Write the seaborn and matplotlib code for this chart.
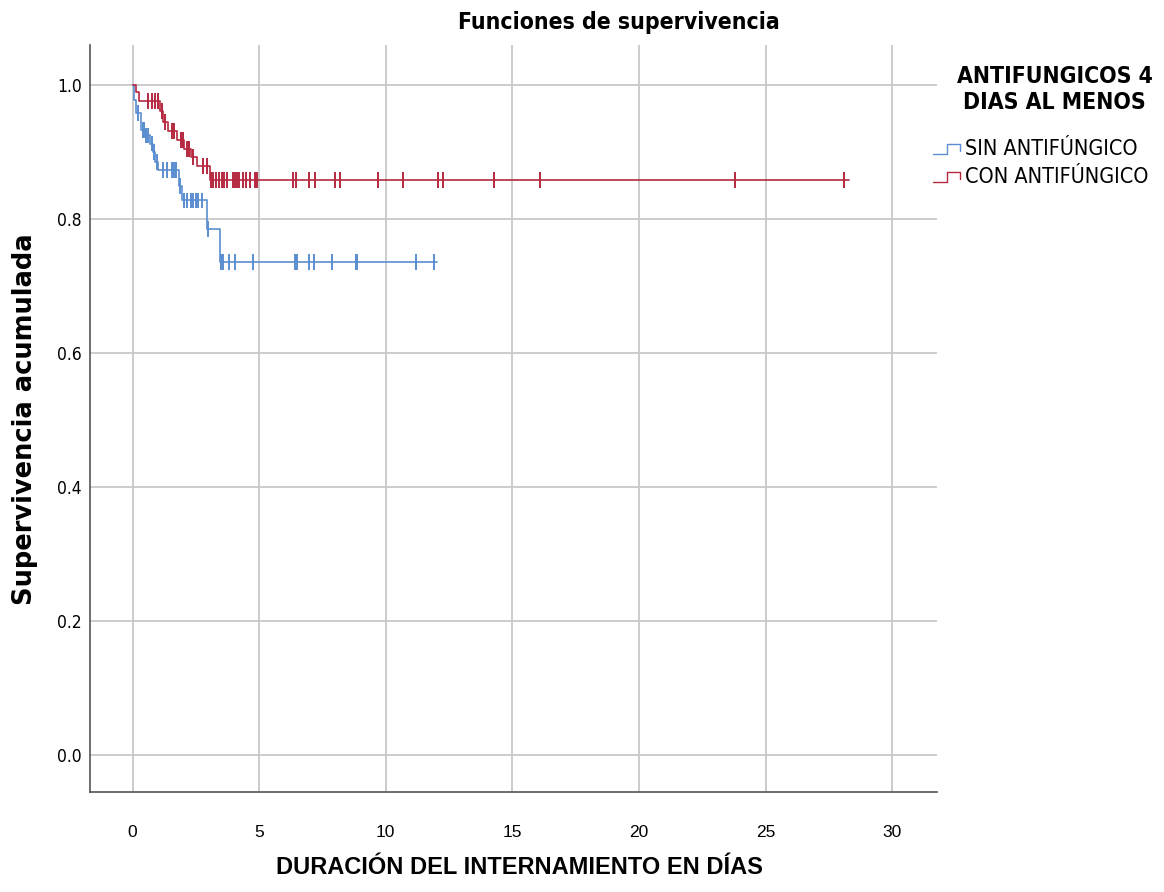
import numpy as np
import pandas as pd
import seaborn as sns
import matplotlib.pyplot as plt
from matplotlib import font_manager
from matplotlib.font_manager import FontProperties
from matplotlib.lines import Line2D

# -----------------------------
# Kaplan-Meier data
# -----------------------------
grupos = ["SIN ANTIFÚNGICO", "CON ANTIFÚNGICO"]

# step times (days) and survival right after each step
sin_t = [0.0, 0.05, 0.15, 0.35, 0.5, 0.7, 0.8, 0.9, 1.0, 1.85, 1.95, 2.95, 3.45]
sin_s = [1.0, 0.978, 0.958, 0.933, 0.925, 0.913, 0.900, 0.886, 0.873, 0.850, 0.828, 0.785, 0.736]
sin_fin = 12.03
sin_cens = [0.2, 0.4, 0.45, 0.55, 0.62, 0.75, 0.85, 0.95, 1.2, 1.35, 1.55, 1.62, 1.7,
            1.88, 2.05, 2.15, 2.3, 2.4, 2.5, 2.6, 2.75, 3.0,
            3.48, 3.59, 3.82, 4.05, 4.77, 6.42, 6.51, 6.98, 7.17, 7.89, 8.82, 8.85,
            11.2, 11.91]

con_t = [0.0, 0.15, 0.25, 1.1, 1.2, 1.4, 1.75, 2.05, 2.3, 2.55, 3.05]
con_s = [1.0, 0.99, 0.977, 0.962, 0.945, 0.932, 0.918, 0.905, 0.893, 0.880, 0.858]
con_fin = 28.3
con_cens = [0.6, 0.75, 0.9, 1.0, 1.15, 1.3, 1.55, 1.65, 1.9, 2.0, 2.15, 2.25, 2.4,
            2.8, 2.95, 3.09, 3.17, 3.30, 3.43, 3.55, 3.63, 3.72, 3.98, 4.05, 4.12,
            4.22, 4.38, 4.48, 4.64, 4.84, 4.93, 6.35, 6.46, 6.98, 7.21, 8.0, 8.2,
            9.71, 10.67, 12.08, 12.27, 14.28, 16.09, 23.8, 28.1]

colores = {"SIN ANTIFÚNGICO": "#5b8ed1", "CON ANTIFÚNGICO": "#b5283f"}

# -----------------------------
# Build tables
# -----------------------------
curvas = []
marcas = []
for g, t, s, fin, cens in [(grupos[0], sin_t, sin_s, sin_fin, sin_cens),
                           (grupos[1], con_t, con_s, con_fin, con_cens)]:
    tt = list(t) + [fin]
    ss = list(s) + [s[-1]]
    curvas.append(pd.DataFrame({"t": tt, "S": ss, "grupo": g}))
    idx = np.searchsorted(np.array(t), np.array(cens), side="right") - 1
    marcas.append(pd.DataFrame({"t": cens, "S": np.array(s)[idx], "grupo": g}))
df_curvas = pd.concat(curvas, ignore_index=True)
df_marcas = pd.concat(marcas, ignore_index=True)


# -----------------------------
# Fonts: look for a condensed face, else Open Sans
# -----------------------------
def es_estrecha(f):
    return ("Narrow" in f.name or "Condensed" in f.name
            or str(f.stretch) in ("condensed", "semi-condensed", "extra-condensed"))


estrechas = [f for f in font_manager.fontManager.ttflist if es_estrecha(f)]


def fuente(bold, size):
    quiere = 700 if bold else 400
    for f in estrechas:
        w = f.weight
        w = {"normal": 400, "regular": 400, "bold": 700}.get(w, w)
        if w == quiere and f.style == "normal":
            return FontProperties(fname=f.fname, size=size)
    return FontProperties(family="Open Sans", weight="bold" if bold else "normal", size=size)


sns.set_style("white")
plt.rcParams["font.family"] = ["Liberation Sans", "DejaVu Sans"]
plt.rcParams["text.color"] = "black"
plt.rcParams["xtick.color"] = "black"
plt.rcParams["ytick.color"] = "black"

fig = plt.figure(figsize=(11.64, 8.92), dpi=100)
ax = fig.add_axes([0.0773, 0.1121, 0.7277, 0.8374])

sns.lineplot(data=df_curvas, x="t", y="S", hue="grupo", palette=colores,
             drawstyle="steps-post", estimator=None, sort=False,
             linewidth=1.2, legend=False, ax=ax)
sns.scatterplot(data=df_marcas, x="t", y="S", hue="grupo", palette=colores,
                marker="|", s=130, linewidth=1.4, legend=False, ax=ax, zorder=3)

ax.set_xlim(-1.68, 31.77)
ax.set_ylim(-0.055, 1.06)
ax.set_xticks(range(0, 31, 5))
ax.set_yticks([0.0, 0.2, 0.4, 0.6, 0.8, 1.0])
ax.set_yticklabels(["0.0", "0.2", "0.4", "0.6", "0.8", "1.0"])
for lab in ax.get_yticklabels():
    lab.set_fontproperties(fuente(False, 12.5))
ax.grid(True, color="#c8c8c8", linewidth=1.3)
ax.set_axisbelow(True)
for side in ["top", "right"]:
    ax.spines[side].set_visible(False)
for side in ["left", "bottom"]:
    ax.spines[side].set_color("#555555")
    ax.spines[side].set_linewidth(1.2)
ax.tick_params(axis="x", length=0, pad=24, labelsize=12.5)
ax.tick_params(axis="y", length=0, pad=6)
ax.set_xlabel("")
ax.set_ylabel("")

fig.text(0.532, 0.975, "Funciones de supervivencia", ha="center", va="center",
         fontproperties=fuente(True, 16.5))
fig.text(0.0215, 0.530, "Supervivencia acumulada", rotation=90, ha="center", va="center",
         family="DejaVu Sans", fontweight="bold", fontsize=18.5)
fig.text(0.446, 0.028, "DURACIÓN DEL INTERNAMIENTO EN DÍAS", ha="center", va="center",
         fontweight="bold", fontsize=17)

# legend drawn by hand (SPSS style)
fig.text(0.906, 0.900, "ANTIFUNGICOS 4\nDIAS AL MENOS", ha="center", va="center",
         multialignment="center", fontproperties=fuente(True, 16.5), linespacing=1.15)
for i, g in enumerate(grupos):
    py = 149 + i * 28
    fig.text(965 / 1164, (892 - py) / 892, g, ha="left", va="center",
             fontproperties=fuente(False, 15.5))
    hx = [933, 947, 947, 960, 960]
    hy = [py + 5, py + 5, py - 5, py - 5, py + 2]
    fig.add_artist(Line2D([x / 1164 for x in hx], [(892 - y) / 892 for y in hy],
                          transform=fig.transFigure, color=colores[g], linewidth=1.0))

plt.savefig("out.png", dpi=100)
